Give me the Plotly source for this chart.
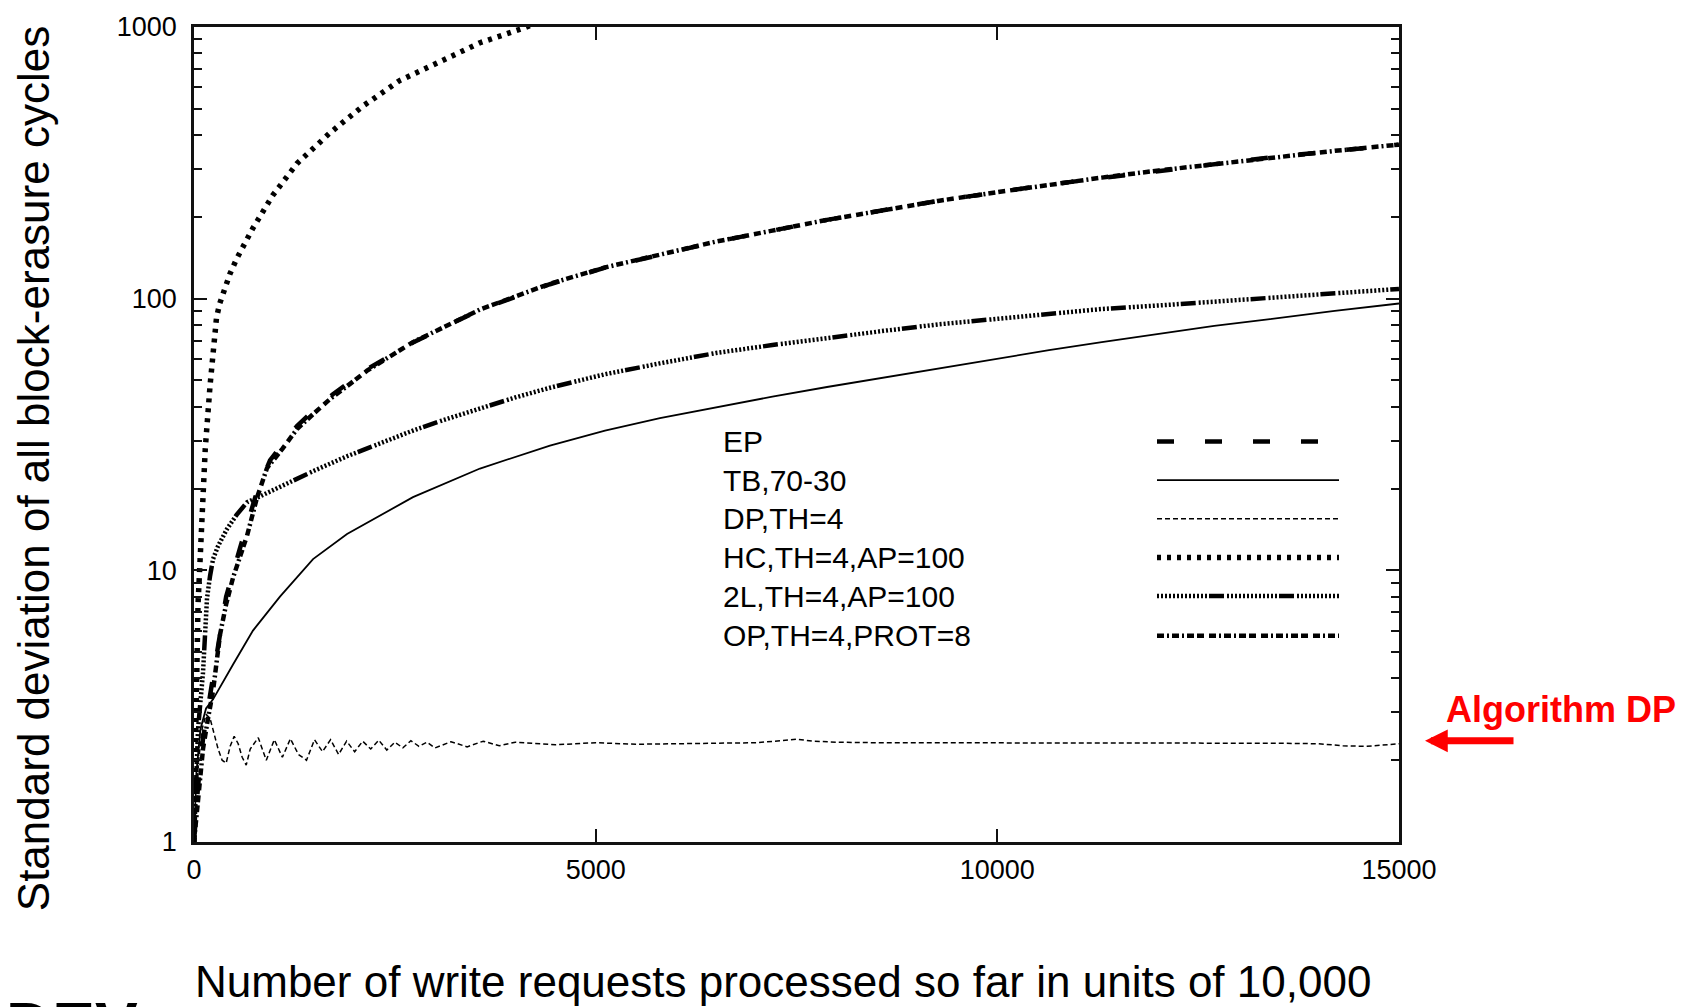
import plotly.graph_objects as go

# ---------------- data ----------------
hc_x = [0, 15, 30, 50, 75, 100, 140, 200, 240, 280, 320, 365, 450, 535, 730, 980, 1280, 1690, 2100, 2560,
        3060, 3560, 4100, 4250]
hc_y = [1.0, 1.5, 3.5, 7.5, 11, 16, 28, 48, 66, 85, 96, 106, 124, 141, 181, 240, 314, 407, 511, 635,
        745, 875, 990, 1030]

op_x = [0, 25, 50, 80, 112, 170, 237, 324, 400, 486, 570, 660, 784, 909, 1100, 1282, 1500, 1693, 1900, 2154,
        2400, 2726, 3100, 3560, 4000, 4431, 5116, 5800, 6498, 7200, 7880, 8600, 9261, 10000, 10643, 11300,
        12012, 12700, 13394, 14200, 15000]
op_y = [1.0, 1.2, 1.5, 1.8, 2.2, 2.8, 3.6, 5.8, 7.5, 9.4, 11.2, 13.4, 18.5, 23.8, 28, 33.1, 38, 42.7, 47.5, 54.3,
        60.3, 69.2, 78.3, 91.2, 101.9, 113.5, 130.3, 145.5, 162.2, 178, 195, 212, 229, 246.6, 263, 279,
        296.5, 313, 331, 350, 369]

ep_x = [0, 50, 112, 237, 400, 570, 784, 946, 1100, 1282, 1500, 1730, 2154, 2726, 3560, 4431, 5116, 6498,
        7880, 9261, 10643, 12012, 13394, 15000]
ep_y = [1.0, 1.6, 2.4, 4.0, 8.0, 12, 19.5, 25.4, 29, 34, 39, 44.5, 55, 69, 91, 113, 130, 162,
        195, 229, 263, 296, 331, 369]

l2_x = [0, 20, 50, 112, 162, 199, 237, 300, 411, 530, 660, 784, 1070, 1500, 1905, 2300, 2726, 3100, 3560,
        4000, 4431, 5116, 5800, 6498, 7200, 7880, 8600, 9261, 10000, 10643, 11300, 12012, 12700, 13394,
        14200, 15000]
l2_y = [1.0, 1.4, 2.6, 4.2, 7.9, 9.5, 11, 12.3, 14.2, 16, 17.8, 18.5, 20.3, 23.3, 26.3, 29.2, 32.7, 35.7, 39.6,
        43.3, 47, 52.7, 57.8, 63.1, 67.5, 71.9, 76.2, 80.4, 84.3, 88.1, 91.6, 94.4, 97.5, 100.7,
        104.5, 108.6]

tb_x = [0, 30, 80, 150, 237, 324, 486, 734, 1070, 1482, 1905, 2726, 3560, 4431, 5116, 5800, 6498, 7200,
        7880, 8600, 9261, 10000, 10643, 11300, 12012, 12700, 13394, 14200, 15000]
tb_y = [1.0, 1.8, 2.6, 3.1, 3.35, 3.7, 4.5, 6.0, 8.0, 11.0, 13.6, 18.6, 23.7, 28.8, 32.7, 36.3, 39.8, 43.6,
        47.3, 51.3, 55.6, 60.3, 64.6, 69.2, 74.1, 79.4, 84.1, 90.2, 96]

dp_x = [0, 50, 100, 150, 200, 250, 300, 350, 400, 450, 500, 550, 600, 650, 700, 800, 900, 1000, 1100, 1200,
        1300, 1400, 1500, 1600, 1700, 1800, 1900, 2000, 2100, 2200, 2300, 2400, 2500, 2600, 2700, 2800,
        2900, 3000, 3200, 3400, 3600, 3800, 4000, 4500, 5000, 5500, 6000, 6500, 7000, 7300, 7500, 7700,
        8000, 8500, 9000, 9500, 10000, 10500, 11000, 11500, 12000, 12500, 13000, 13500, 14000, 14300,
        14600, 15000]
dp_y = [1.0, 1.9, 2.6, 2.95, 2.85, 2.5, 2.2, 2.0, 1.95, 2.25, 2.45, 2.3, 2.05, 1.92, 2.2, 2.42, 2.0, 2.38,
        2.05, 2.4, 2.1, 2.0, 2.38, 2.15, 2.38, 2.1, 2.35, 2.15, 2.35, 2.2, 2.37, 2.18, 2.33, 2.22, 2.36,
        2.25, 2.33, 2.22, 2.34, 2.24, 2.35, 2.26, 2.33, 2.28, 2.32, 2.29, 2.3, 2.3, 2.32, 2.36, 2.39,
        2.35, 2.33, 2.32, 2.32, 2.31, 2.32, 2.31, 2.31, 2.31, 2.31, 2.31, 2.31, 2.31, 2.3, 2.26, 2.25,
        2.3]

legend_labels = ["EP", "TB,70-30", "DP,TH=4", "HC,TH=4,AP=100", "2L,TH=4,AP=100", "OP,TH=4,PROT=8"]
x_ticks = [0, 5000, 10000, 15000]

# ---------------- styles ----------------
styles = {
    "EP": dict(width=4.5, dash="17px,31px"),
    "TB,70-30": dict(width=1.8, dash="solid"),
    "DP,TH=4": dict(width=1.5, dash="5px,3px"),
    "HC,TH=4,AP=100": dict(width=5.5, dash="4px,6px"),
    "2L,TH=4,AP=100": dict(width=4.5, dash=",".join(["2px,2px"] * 13) + ",15px,3px"),
    "OP,TH=4,PROT=8": dict(width=4.5, dash="7px,3px,2px,3px,7px,3px,2px,3px,7px,3px,7px,5px"),
}

series = [
    ("EP", ep_x, ep_y),
    ("TB,70-30", tb_x, tb_y),
    ("DP,TH=4", dp_x, dp_y),
    ("HC,TH=4,AP=100", hc_x, hc_y),
    ("2L,TH=4,AP=100", l2_x, l2_y),
    ("OP,TH=4,PROT=8", op_x, op_y),
]

FONT = "Liberation Sans, Arial, sans-serif"
W, H = 1696, 1007
L, R, T, B = 194, 1399, 20, 842


def px(X):
    return (X - L) / (R - L)


def py(Y):
    return (B - Y) / (B - T)


fig = go.Figure()
for name, xs, ys in series:
    st = styles[name]
    fig.add_trace(go.Scatter(x=xs, y=ys, mode="lines", name=name, showlegend=False,
                             line=dict(color="black", width=st["width"], dash=st["dash"])))

# manual legend (text left, sample right as in the reference)
rows_Y = [438, 477, 516, 555, 594, 634]
annotations = []
shapes = []
for lab, Y in zip(legend_labels, rows_Y):
    annotations.append(dict(x=px(721), y=py(Y), xref="paper", yref="paper", text=lab, showarrow=False,
                            xanchor="left", yanchor="middle", font=dict(family=FONT, size=30, color="black")))
    st = styles[lab]
    shapes.append(dict(type="line", xref="paper", yref="paper", x0=px(1157), x1=px(1339), y0=py(Y), y1=py(Y),
                       line=dict(color="black", width=st["width"], dash=st["dash"])))

# axis titles
annotations.append(dict(x=px(33), y=py(466), xref="paper", yref="paper",
                        text="Standard deviation of all block-erasure cycles", textangle=-90, showarrow=False,
                        xanchor="center", yanchor="middle", font=dict(family=FONT, size=44, color="black")))
annotations.append(dict(x=px(193), y=py(983), xref="paper", yref="paper",
                        text="Number of write requests processed so far in units of 10,000", showarrow=False,
                        xanchor="left", yanchor="middle", font=dict(family=FONT, size=44, color="black")))

# red call-out
annotations.append(dict(x=px(1561), y=py(708), xref="paper", yref="paper", text="<b>Algorithm DP</b>",
                        showarrow=False, xanchor="center", yanchor="middle",
                        font=dict(family=FONT, size=36, color="#ff0000")))
annotations.append(dict(x=px(1425), y=py(740), xref="paper", yref="paper", text="", showarrow=True,
                        ax=90, ay=0, arrowhead=2, arrowwidth=7, arrowsize=0.65, arrowcolor="#ff0000"))

# cut-off big DEV text at the bottom left
annotations.append(dict(x=px(4), y=py(989), xref="paper", yref="paper", text="<b>DEV</b>", showarrow=False,
                        xanchor="left", yanchor="top", font=dict(family=FONT, size=64, color="black")))

axis_common = dict(showline=True, linecolor="#111", linewidth=2.5, mirror="ticks", ticks="inside",
                   tickcolor="#111", tickwidth=2, ticklen=13, showgrid=False, zeroline=False,
                   tickfont=dict(family=FONT, size=27, color="black"))

fig.update_layout(
    width=W, height=H,
    margin=dict(l=L, r=W - R, t=T, b=H - B),
    paper_bgcolor="white", plot_bgcolor="white",
    showlegend=False,
    annotations=annotations,
    shapes=shapes,
    xaxis=dict(range=[0, 15000], tickvals=x_ticks, ticktext=[str(v) for v in x_ticks],
               ticklabelstandoff=2, **axis_common),
    yaxis=dict(type="log", range=[0, 3], tickmode="linear", tick0=0, dtick=1, exponentformat="none",
               ticklabelstandoff=9,
               minor=dict(ticks="inside", ticklen=8, tickwidth=2, tickcolor="#111", dtick="D1", showgrid=False),
               **axis_common),
)

fig.write_html("out.html")
